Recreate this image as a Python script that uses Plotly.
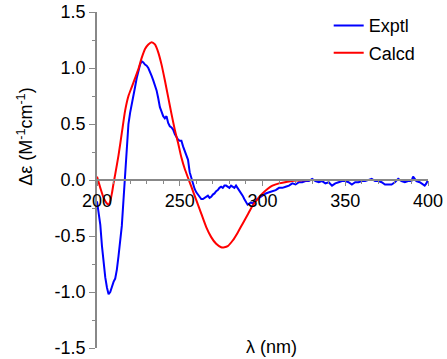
import plotly.graph_objects as go

# ---- data ----
exptl_wl = [200, 201, 202, 203, 204, 205, 206, 207, 208, 209, 210, 211, 212, 213, 214, 215, 216, 217, 218, 219,
            220, 221, 222, 223, 224, 225, 226, 227, 228, 229, 230, 231, 232, 233, 234, 235, 236, 237, 238, 239,
            240, 241, 242, 243, 244, 245, 246, 247, 248, 249, 250, 251, 252, 253, 254, 255, 256, 257, 258, 259,
            260, 261, 262, 263, 264, 265, 266, 267, 268, 269, 270, 271, 272, 273, 274, 275, 276, 277, 278, 279,
            280, 281, 282, 283, 284, 285, 286, 287, 288, 289, 290, 291, 292, 293, 294, 295, 296, 297, 298, 299,
            300, 302, 304, 306, 308, 310, 312, 314, 316, 318, 320, 322, 324, 326, 328, 330, 332, 334, 336, 338,
            340, 342, 344, 346, 348, 350, 352, 354, 356, 358, 360, 362, 364, 366, 368, 370, 372, 374, 376, 378,
            380, 382, 384, 386, 388, 390, 391, 393, 395, 397, 398, 399, 400]
exptl_de = [-0.19, -0.28, -0.40, -0.59, -0.75, -0.87, -0.96, -1.02, -1.00, -0.95, -0.91, -0.88, -0.80, -0.68, -0.56, -0.41, -0.18, 0.08, 0.32, 0.50,
            0.60, 0.69, 0.76, 0.83, 0.91, 0.98, 1.03, 1.06, 1.05, 1.03, 1.02, 1.00, 0.97, 0.93, 0.89, 0.85, 0.80, 0.73, 0.65, 0.61,
            0.57, 0.55, 0.57, 0.51, 0.48, 0.47, 0.45, 0.41, 0.38, 0.36, 0.35, 0.35, 0.30, 0.26, 0.22, 0.18, 0.07, 0.02, -0.04, -0.08,
            -0.11, -0.13, -0.15, -0.17, -0.17, -0.16, -0.15, -0.14, -0.16, -0.15, -0.13, -0.12, -0.10, -0.09, -0.07, -0.06, -0.07, -0.05, -0.05, -0.06,
            -0.07, -0.05, -0.06, -0.07, -0.05, -0.07, -0.09, -0.12, -0.14, -0.17, -0.19, -0.22, -0.21, -0.20, -0.21, -0.19, -0.18, -0.17, -0.16, -0.15,
            -0.14, -0.12, -0.11, -0.10, -0.09, -0.07, -0.07, -0.06, -0.05, -0.03, -0.04, -0.02, -0.02, -0.01, -0.01, 0.01, -0.01, -0.02, -0.01, -0.03,
            -0.02, -0.05, -0.03, -0.02, -0.01, -0.01, -0.02, -0.04, -0.02, -0.02, -0.01, -0.01, 0.00, 0.01, -0.01, -0.01, -0.02, -0.04, -0.04, -0.04,
            -0.02, 0.01, -0.01, -0.02, -0.01, -0.01, 0.03, -0.01, -0.02, -0.04, -0.05, -0.03, 0.00]

calcd_wl = [200, 202, 204, 206, 207, 208, 209, 210, 211, 213, 215, 217, 219, 221, 223, 225, 227, 229, 231, 233,
            235, 237, 239, 241, 243, 245, 247, 249, 251, 253, 255, 257, 260, 263, 266, 269, 272, 275, 277, 279,
            282, 285, 288, 291, 294, 297, 300, 303, 306, 310, 315, 320, 330, 340, 360, 380, 400]
calcd_de = [0.03, -0.07, -0.16, -0.21, -0.22, -0.19, -0.12, -0.03, 0.05, 0.22, 0.42, 0.62, 0.75, 0.83, 0.91, 0.99, 1.09, 1.17, 1.21, 1.23,
            1.21, 1.14, 1.03, 0.89, 0.74, 0.59, 0.45, 0.33, 0.20, 0.10, 0.02, -0.06, -0.18, -0.30, -0.42, -0.51, -0.57, -0.60, -0.60, -0.59,
            -0.54, -0.47, -0.39, -0.31, -0.23, -0.17, -0.12, -0.08, -0.05, -0.03, -0.015, -0.005, 0.0, 0.0, 0.0, 0.0, 0.0]

x_tickvals = [200, 250, 300, 350, 400]
x_ticktext = ["200", "250", "300", "350", "400"]
y_tickvals = [-1.5, -1.0, -0.5, 0.0, 0.5, 1.0, 1.5]
y_ticktext = ["-1.5", "-1.0", "-0.5", "0.0", "0.5", "1.0", "1.5"]

FONT = "Arial, Liberation Sans, sans-serif"
AX = "#888888"
FS = 18

fig = go.Figure()
fig.add_trace(go.Scatter(x=exptl_wl, y=exptl_de, mode="lines", name="Exptl", legendgroup="e",
                         line=dict(color="#0000FF", width=2)))
fig.add_trace(go.Scatter(x=calcd_wl, y=calcd_de, mode="lines", name="Calcd", legendgroup="c",
                         line=dict(color="#FF0000", width=2, shape="spline", smoothing=0.6)))

fig.update_layout(
    width=447, height=359,
    margin=dict(l=97, r=19, t=12, b=11, autoexpand=False),
    paper_bgcolor="white", plot_bgcolor="white",
    font=dict(family=FONT, size=FS, color="black"),
    showlegend=True,
    legend=dict(x=0.70, y=0.98, yref="container", xanchor="left", yanchor="top",
                bgcolor="rgba(0,0,0,0)", font=dict(size=FS), tracegroupgap=1,
                itemwidth=30),
    xaxis=dict(range=[200, 400], anchor="free", position=0.5,
               showline=True, linecolor=AX, linewidth=1.5,
               showgrid=False, zeroline=False, automargin=False,
               tickvals=x_tickvals, ticktext=x_ticktext,
               ticks="outside", ticklen=5, tickcolor=AX, tickwidth=1,
               minor=dict(dtick=10, ticks="outside", ticklen=3, tickcolor=AX, showgrid=False),
               tickfont=dict(size=FS)),
    yaxis=dict(range=[-1.5, 1.5], showline=True, linecolor=AX, linewidth=1.5,
               showgrid=False, zeroline=False, automargin=False,
               tickvals=y_tickvals, ticktext=y_ticktext,
               ticks="outside", ticklen=6, tickcolor=AX, tickwidth=1,
               minor=dict(tickvals=[-1.25, -0.75, -0.25, 0.25, 0.75, 1.25], ticks="outside", ticklen=3,
                          tickcolor=AX, showgrid=False),
               tickfont=dict(size=FS)),
    annotations=[
        dict(text="λ (nm)", xref="paper", yref="paper", x=0.528, y=0.003,
             xanchor="center", yanchor="middle", showarrow=False, font=dict(size=FS)),
        dict(text="Δε (M<sup>-1</sup>cm<sup>-1</sup>)", xref="paper", yref="paper", x=-0.215, y=0.628,
             xanchor="center", yanchor="middle", textangle=-90, showarrow=False, font=dict(size=FS)),
    ],
)

fig.write_html("out.html", config={"displayModeBar": False},
               post_script="document.body.style.margin='0';document.body.style.padding='0';")
